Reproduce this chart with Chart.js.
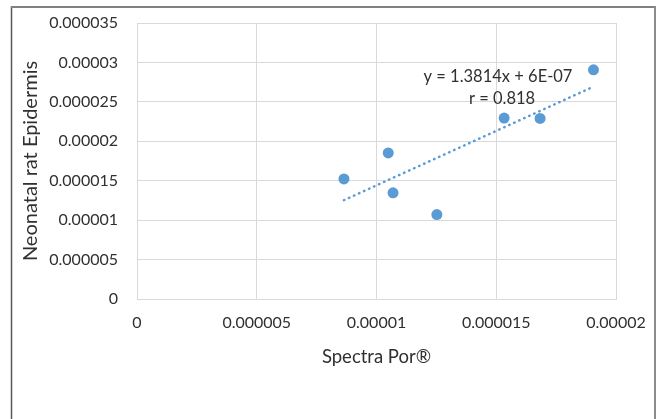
<!DOCTYPE html>
<html>
<head>
<meta charset="utf-8">
<script src="https://cdn.jsdelivr.net/npm/chart.js@4.4.0/dist/chart.umd.min.js"></script>
<style>
  html, body { margin: 0; padding: 0; background: #fff; }
  #wrap { width: 659px; height: 419px; position: relative; }
</style>
</head>
<body>
<div id="wrap"><canvas id="chart"></canvas></div>
<script>
// Measured points (Spectra Por vs Neonatal rat Epidermis)
const spectraPor = [8.64e-6, 10.49e-6, 10.69e-6, 12.52e-6, 15.33e-6, 16.83e-6, 19.06e-6];
const ratEpidermis = [15.23e-6, 18.52e-6, 13.46e-6, 10.71e-6, 22.95e-6, 22.9e-6, 29.06e-6];

// Linear trendline end points (y = 1.3814x + 6E-07)
const trendX = [8.64e-6, 19.06e-6];
const trendY = [12.53e-6, 26.93e-6];

const xTicks = [0, 5e-6, 10e-6, 15e-6, 20e-6];
const yTicks = [0, 5e-6, 10e-6, 15e-6, 20e-6, 25e-6, 30e-6, 35e-6];

const equationText = 'y = 1.3814x + 6E-07';
const rText = 'r = 0.818';

const FONT = 'Lato, "Open Sans", sans-serif';
const TEXT = '#303030';
const BLUE = '#5B9BD5';
const GRID = '#d9d9d9';

const fmt = v => parseFloat(Number(v).toPrecision(4)).toString();

// frame around the chart (left, top and right edges)
const framePlugin = {
    id: 'frame',
    beforeDraw(chart) {
        const c = chart.ctx;
        c.save();
        c.strokeStyle = '#595959';
        c.lineWidth = 1.5;
        c.beginPath(); c.moveTo(11.5, 6); c.lineTo(11.5, 419); c.stroke();
        c.strokeStyle = '#808080';
        c.lineWidth = 2;
        c.beginPath(); c.moveTo(11, 7); c.lineTo(656, 7); c.stroke();
        c.strokeStyle = '#8c8c8c';
        c.beginPath(); c.moveTo(655, 6); c.lineTo(655, 419); c.stroke();
        c.restore();
    }
};

// trendline equation label
const labelPlugin = {
    id: 'eqLabel',
    afterDraw(chart) {
        const c = chart.ctx;
        c.save();
        c.fillStyle = TEXT;
        c.font = '16.5px ' + FONT;
        c.textAlign = 'center';
        c.textBaseline = 'middle';
        c.fillText(equationText, 498, 77);
        c.fillText(rText, 502, 99);
        c.restore();
    }
};

const ctx = document.getElementById('chart').getContext('2d');
new Chart(ctx, {
    type: 'scatter',
    data: {
        datasets: [{
            label: 'Epidermis',
            data: spectraPor.map((x, i) => ({ x: x, y: ratEpidermis[i] })),
            backgroundColor: BLUE,
            borderColor: BLUE,
            pointRadius: 5.5,
            pointBorderWidth: 0,
            order: 1
        }, {
            label: 'Linear',
            type: 'line',
            data: trendX.map((x, i) => ({ x: x, y: trendY[i] })),
            borderColor: BLUE,
            borderWidth: 2.5,
            borderDash: [0.5, 5],
            borderCapStyle: 'round',
            pointRadius: 0,
            fill: false,
            order: 0
        }]
    },
    options: {
        responsive: true,
        maintainAspectRatio: false,
        animation: false,
        layout: { padding: { left: 0, right: 43, top: 23, bottom: 44 } },
        plugins: {
            legend: { display: false },
            tooltip: { enabled: false }
        },
        scales: {
            x: {
                type: 'linear',
                min: 0,
                max: 2e-5,
                afterBuildTicks: s => { s.ticks = xTicks.map(v => ({ value: v })); },
                afterFit: s => { s.height = 76; s.paddingLeft = 0; s.paddingRight = 0; },
                grid: { color: GRID, lineWidth: 1, drawTicks: false },
                border: { color: GRID },
                ticks: {
                    color: TEXT,
                    font: { family: FONT, size: 16 },
                    padding: 14,
                    maxRotation: 0,
                    callback: fmt
                },
                title: {
                    display: true,
                    text: 'Spectra Por®',
                    color: TEXT,
                    font: { family: FONT, size: 18.5 },
                    padding: { top: 0, bottom: 7 }
                }
            },
            y: {
                type: 'linear',
                min: 0,
                max: 3.5e-5,
                afterBuildTicks: s => { s.ticks = yTicks.map(v => ({ value: v })); },
                afterFit: s => { s.width = 137; s.paddingTop = 0; s.paddingBottom = 0; },
                grid: { color: GRID, lineWidth: 1, drawTicks: false },
                border: { color: GRID },
                ticks: {
                    color: TEXT,
                    font: { family: FONT, size: 16 },
                    padding: 19,
                    callback: fmt
                },
                title: {
                    display: true,
                    text: 'Neonatal rat Epidermis',
                    color: TEXT,
                    font: { family: FONT, size: 20 },
                    padding: { top: 19, bottom: 0 }
                }
            }
        }
    },
    plugins: [framePlugin, labelPlugin]
});
</script>
</body>
</html>
